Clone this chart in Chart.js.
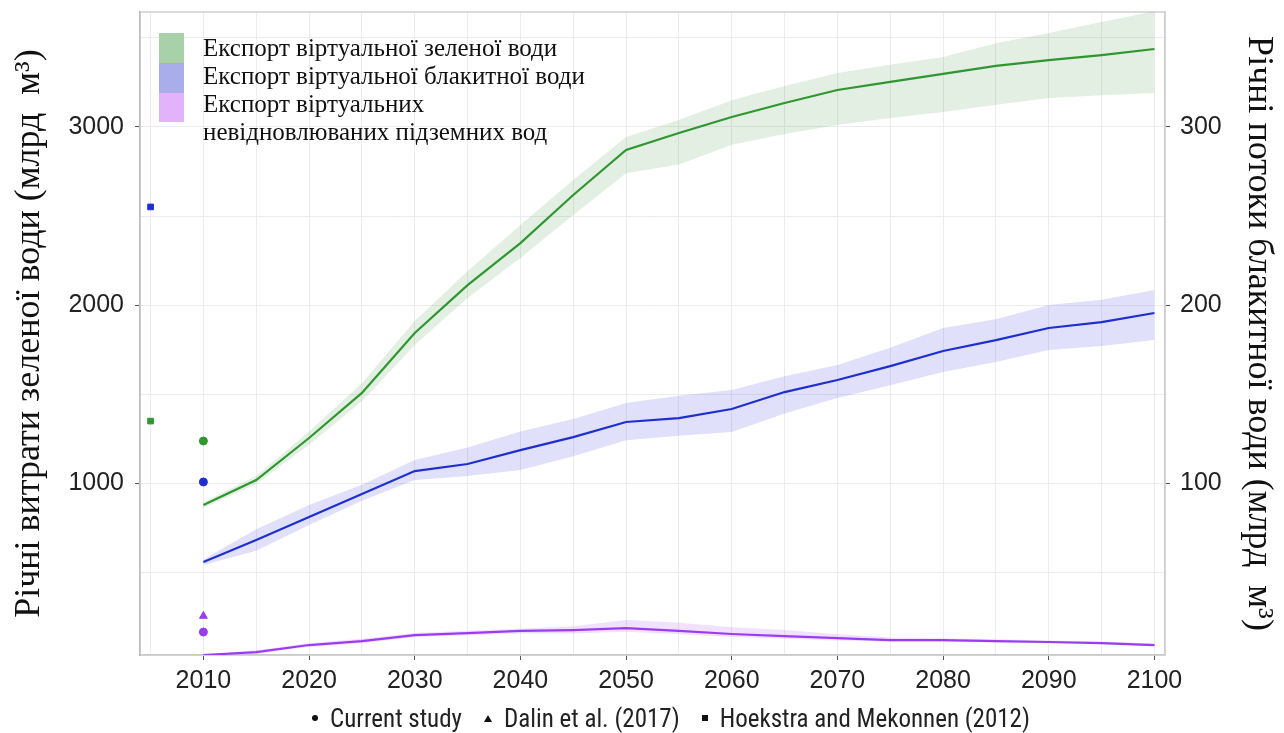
<!DOCTYPE html>
<html lang="uk">
<head>
<meta charset="utf-8">
<script src="https://cdn.jsdelivr.net/npm/chart.js@4.4.1/dist/chart.umd.min.js"></script>
<style>
  html, body { margin: 0; padding: 0; background: #fff; }
  #wrap { position: relative; width: 1284px; height: 733px; overflow: hidden; }
  #inlegend {
    position: absolute; left: 159px; top: 34px;
    font-family: "Liberation Serif", "Times New Roman", serif;
    font-size: 25px; color: #111; line-height: 28px;
  }
  #inlegend .row { position: relative; padding-left: 44px; }
  #inlegend .sw { position: absolute; left: 0; width: 25px; }
  #botlegend {
    position: absolute; left: 0; width: 1284px; top: 702px; height: 32px;
    display: flex; justify-content: center; align-items: center;
    font-family: "Liberation Sans Narrow", "Roboto Condensed", "Liberation Sans", sans-serif;
    font-size: 25px; color: #222; padding-left: 58px; box-sizing: border-box;
  }
  #botlegend .it { display: flex; align-items: center; margin: 0 11px; }
  #botlegend .mk { display: inline-block; margin-right: 12px; background: #111; }
  #botlegend .dot { width: 6px; height: 6px; border-radius: 50%; }
  #botlegend .sq { width: 6px; height: 6px; }
  #botlegend .tri { width: 0; height: 0; background: none;
    border-left: 4px solid transparent; border-right: 4px solid transparent; border-bottom: 7px solid #111; }
</style>
</head>
<body>
<div id="wrap">
  <canvas id="chart" width="1284" height="733"></canvas>
  <div id="inlegend">
    <div class="row"><span class="sw" style="top:-1px;height:30px;background:#a9d1a9"></span>Експорт віртуальної зеленої води</div>
    <div class="row"><span class="sw" style="top:1px;height:30px;background:#a9aeea"></span>Експорт віртуальної блакитної води</div>
    <div class="row"><span class="sw" style="top:3px;height:29px;background:#e2b3fb"></span>Експорт віртуальних<br>невідновлюваних підземних вод</div>
  </div>
  <div id="botlegend">
    <span class="it"><span class="mk dot"></span>Current study</span>
    <span class="it"><span class="mk tri"></span>Dalin et al. (2017)</span>
    <span class="it"><span class="mk sq"></span>Hoekstra and Mekonnen (2012)</span>
  </div>
</div>
<script>
/* series, every 5 years */
const years = [2010, 2015, 2020, 2025, 2030, 2035, 2040, 2045, 2050, 2055,
               2060, 2065, 2070, 2075, 2080, 2085, 2090, 2095, 2100];

// green water, left axis (bn m3)
const greenMid  = [876, 1017, 1253, 1506, 1843, 2112, 2348, 2618, 2871, 2966,
                   3056, 3135, 3208, 3253, 3298, 3343, 3376, 3404, 3438];
const greenLow  = [860, 995, 1215, 1460, 1775, 2040, 2264, 2506, 2740, 2790,
                   2900, 2960, 3011, 3050, 3084, 3125, 3163, 3178, 3191];
const greenHigh = [892, 1040, 1290, 1560, 1910, 2190, 2449, 2702, 2944, 3040,
                   3150, 3230, 3303, 3350, 3393, 3470, 3528, 3590, 3650];

// blue water, right axis (bn m3)
const blueMid  = [55.6, 68.0, 80.9, 93.8, 106.7, 110.7, 118.5, 125.8, 134.3, 136.5,
                  141.6, 151.1, 157.9, 165.7, 174.2, 180.3, 187.1, 190.4, 195.5];
const blueLow  = [54.0, 62.0, 76.4, 90.0, 101.7, 104.0, 107.3, 115.0, 124.1, 126.5,
                  128.7, 139.0, 147.8, 155.0, 162.4, 168.0, 174.7, 177.0, 180.3];
const blueHigh = [57.0, 74.0, 87.6, 99.0, 112.9, 120.0, 129.0, 136.0, 144.9, 149.0,
                  152.2, 160.0, 166.3, 176.0, 187.1, 192.0, 200.0, 203.0, 208.4];

// non-renewable groundwater, right axis (bn m3)
const purpleMid  = [3.4, 5.0, 9.0, 11.2, 14.6, 15.7, 16.9, 17.4, 18.5, 16.9,
                    15.2, 14.0, 12.9, 11.8, 11.8, 11.2, 10.7, 10.1, 9.0];
const purpleLow  = [3.4, 4.0, 8.0, 10.0, 13.5, 14.5, 15.5, 15.5, 16.5, 15.0,
                    13.5, 12.5, 11.5, 10.8, 10.8, 10.4, 10.0, 9.4, 8.4];
const purpleHigh = [3.4, 6.0, 10.0, 12.5, 15.8, 17.0, 18.2, 19.5, 23.0, 21.5,
                    19.0, 17.5, 15.0, 13.2, 12.8, 12.2, 11.6, 11.0, 9.8];

// reference estimates: [year, value]
const studyGreen   = [[2010, 1236]];
const studyBlue    = [[2010, 100.6]];
const studyPurple  = [[2010, 16.3]];
const dalinPurple  = [[2010, 25.3]];
const hoekGreen    = [[2005, 1348]];
const hoekBlue     = [[2005, 255.1]];

const xTicks  = [2005, 2010, 2015, 2020, 2025, 2030, 2035, 2040, 2045, 2050,
                 2055, 2060, 2065, 2070, 2075, 2080, 2085, 2090, 2095, 2100];
const yTicks  = [500, 1000, 1500, 2000, 2500, 3000, 3500];
const y2Ticks = [50, 100, 150, 200, 250, 300, 350];

const GREEN = '#2f9630', BLUE = '#1f2fcf', PURPLE = '#9a3cf2';
const GRID = '#ececec';
const tickFont = { family: '"Liberation Sans", Arial, sans-serif', size: 25 };
const titleFont = { family: '"Liberation Serif", "Times New Roman", serif', size: 36 };

function pts(vals) { return vals.map(function (v, i) { return { x: years[i], y: v }; }); }
function ref(list) { return list.map(function (p) { return { x: p[0], y: p[1] }; }); }

function band(vals, axis, color, fill) {
  return { data: pts(vals), yAxisID: axis, borderWidth: 0, pointRadius: 0,
           backgroundColor: color, fill: fill, order: 5 };
}
function line(vals, axis, color) {
  return { data: pts(vals), yAxisID: axis, borderColor: color, borderWidth: 2.2,
           pointRadius: 0, fill: false, order: 2 };
}
function marks(list, axis, color, style, r) {
  return { type: 'scatter', data: ref(list), yAxisID: axis, pointStyle: style,
           pointRadius: r, backgroundColor: color, borderColor: color, order: 1 };
}
function noPad(s) { s.paddingTop = 0; s.paddingBottom = 0; s.paddingLeft = 0; s.paddingRight = 0; }

const frame = {
  id: 'frame',
  beforeDatasetsDraw: function (chart) {
    const a = chart.chartArea, c = chart.ctx;
    c.save();
    c.strokeStyle = '#cfcfcf';
    c.lineWidth = 1.5;
    c.strokeRect(a.left, a.top, a.right - a.left, a.bottom - a.top);
    c.restore();
  }
};

new Chart(document.getElementById('chart'), {
  type: 'line',
  data: {
    datasets: [
      band(greenLow, 'y', 'rgba(0,0,0,0)', false),
      band(greenHigh, 'y', 'rgba(60,150,60,0.15)', '-1'),
      band(blueLow, 'y2', 'rgba(0,0,0,0)', false),
      band(blueHigh, 'y2', 'rgba(70,70,225,0.17)', '-1'),
      band(purpleLow, 'y2', 'rgba(0,0,0,0)', false),
      band(purpleHigh, 'y2', 'rgba(190,100,255,0.2)', '-1'),
      line(greenMid, 'y', GREEN),
      line(blueMid, 'y2', BLUE),
      line(purpleMid, 'y2', PURPLE),
      marks(studyGreen, 'y', GREEN, 'circle', 4),
      marks(studyBlue, 'y2', BLUE, 'circle', 4),
      marks(studyPurple, 'y2', PURPLE, 'circle', 4),
      marks(dalinPurple, 'y2', PURPLE, 'triangle', 4.5),
      marks(hoekGreen, 'y', GREEN, 'rect', 4),
      marks(hoekBlue, 'y2', BLUE, 'rect', 4)
    ]
  },
  options: {
    responsive: false,
    devicePixelRatio: 1,
    animation: false,
    layout: { padding: { top: 12, bottom: 34, left: 0, right: 0 } },
    plugins: {
      tooltip: { enabled: false },
      legend: { display: false }
    },
    scales: {
      x: {
        type: 'linear', min: 2004, max: 2101,
        afterBuildTicks: function (s) { s.ticks = xTicks.map(function (v) { return { value: v }; }); },
        afterFit: function (s) { s.height = 44; noPad(s); },
        ticks: {
          color: '#222', font: tickFont, maxRotation: 0, autoSkip: false, padding: 6,
          callback: function (v) { return v % 10 === 0 ? String(v) : ''; }
        },
        grid: {
          color: GRID, lineWidth: 1, tickLength: 5,
          tickColor: function (c) { return c.tick && c.tick.value % 10 === 0 ? '#555' : 'rgba(0,0,0,0)'; }
        },
        border: { color: '#bbb', width: 1.5 }
      },
      y: {
        position: 'left', min: 34, max: 3646,
        afterBuildTicks: function (s) { s.ticks = yTicks.map(function (v) { return { value: v }; }); },
        afterFit: function (s) { s.width = 140; noPad(s); },
        ticks: {
          color: '#222', font: tickFont, padding: 11, autoSkip: false,
          callback: function (v) { return v % 1000 === 0 ? String(v) : ''; }
        },
        grid: {
          color: GRID, lineWidth: 1, tickLength: 5,
          tickColor: function (c) { return c.tick && c.tick.value % 1000 === 0 ? '#555' : 'rgba(0,0,0,0)'; }
        },
        border: { color: '#888', width: 1.5 },
        title: {
          display: true, text: 'Річні витрати зеленої води (млрд  м³)',
          color: '#111', font: titleFont, padding: { top: 8, bottom: 0 }
        }
      },
      y2: {
        position: 'right', min: 3.4, max: 364.6,
        afterBuildTicks: function (s) { s.ticks = y2Ticks.map(function (v) { return { value: v }; }); },
        afterFit: function (s) { s.width = 119; noPad(s); },
        ticks: {
          color: '#222', font: tickFont, padding: 10, autoSkip: false,
          callback: function (v) { return v % 100 === 0 ? String(v) : ''; }
        },
        grid: {
          drawOnChartArea: false, tickLength: 5,
          tickColor: function (c) { return c.tick && c.tick.value % 100 === 0 ? '#555' : 'rgba(0,0,0,0)'; }
        },
        border: { color: '#cfcfcf', width: 1.5 },
        title: {
          display: true, text: 'Річні потоки блакитної води (млрд  м³)',
          color: '#111', font: titleFont, padding: { top: 4, bottom: 0 }
        }
      }
    }
  },
  plugins: [frame]
});
</script>
</body>
</html>
